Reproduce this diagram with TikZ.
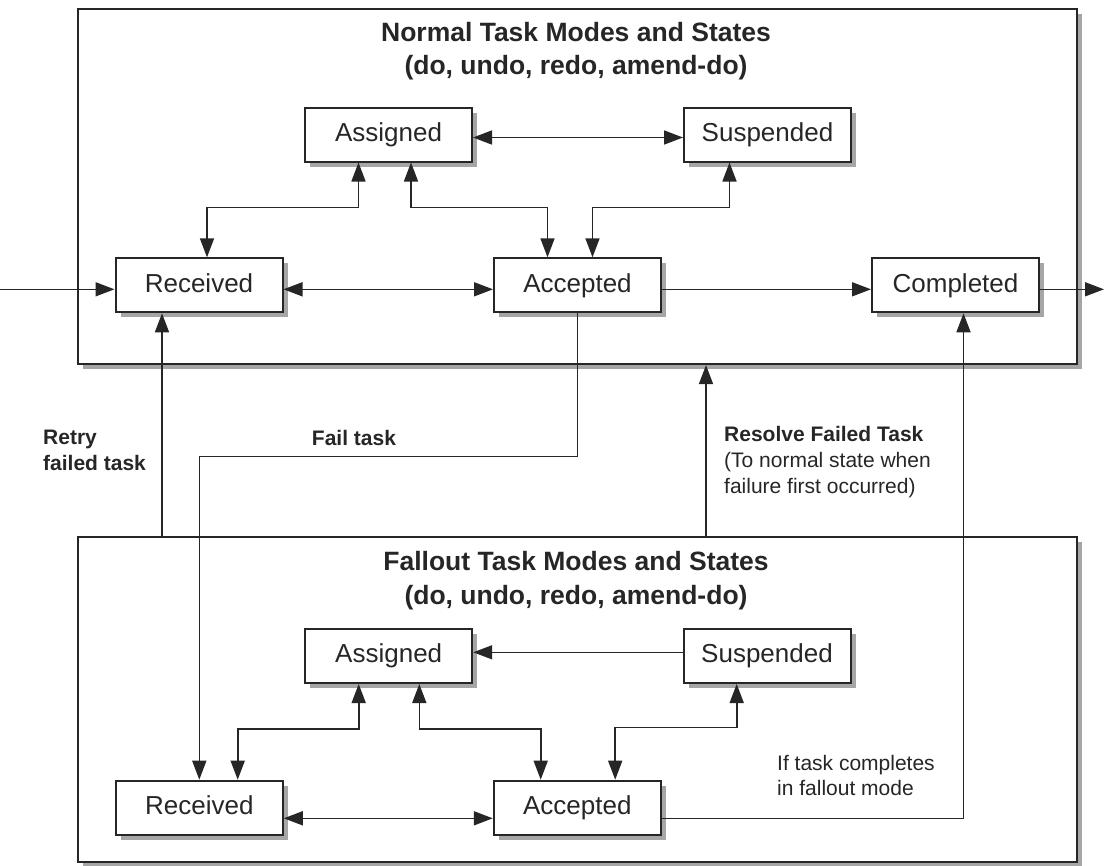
\documentclass[tikz,border=0pt]{standalone}
\usepackage{fontspec}
\setmainfont{Liberation Sans}
\usetikzlibrary{arrows.meta,shadows}
\begin{document}
\begin{tikzpicture}[x=1pt,y=-1pt,
  line/.style={draw=black!85, line width=1.6pt},
  arr/.style={line, -{Triangle[length=19pt,width=14pt]}},
  darr/.style={line, {Triangle[length=19pt,width=14pt]}-{Triangle[length=19pt,width=14pt]}},
  shad/.style={drop shadow={shadow xshift=5pt, shadow yshift=-5pt, fill=black!35, opacity=1}},
  state/.style={draw=black!85, line width=2pt, fill=white, minimum width=167pt, minimum height=54pt,
    inner sep=0pt, text height=19pt, text depth=5.5pt, font=\fontsize{26}{30}\selectfont, text=black!85, shad},
  frame/.style={draw=black!85, line width=2.2pt, fill=white, inner sep=0pt, minimum width=999pt, shad},
  title/.style={font=\fontsize{26.5}{33.5}\selectfont\bfseries, text=black!85, align=center},
  lbl/.style={font=\fontsize{21}{25.6}\selectfont, text=black!85, align=left, inner sep=0pt}
]
\useasboundingbox (0,0) rectangle (1106,865);

% containers
\node[frame, minimum height=355pt] (top) at (577.5,186.5) {};
\node[frame, minimum height=325pt] (bot) at (577.5,699.5) {};

% titles
\node[title] (ttl1) at (576,51) {Normal Task Modes and States\\(do, undo, redo, amend-do)};
\node[title] (ttl2) at (576,580.5) {Fallout Task Modes and States\\(do, undo, redo, amend-do)};

% top states
\node[state] (tasg) at (388.5,134.5) {Assigned};
\node[state] (tsus) at (767.5,134.5) {Suspended};
\node[state] (trcv) at (199,285.3) {Received};
\node[state] (tacc) at (577.5,285.3) {Accepted};
\node[state] (tcmp) at (955.5,285.3) {Completed};

% bottom states
\node[state] (basg) at (388.7,656) {Assigned};
\node[state] (bsus) at (767,656) {Suspended};
\node[state] (brcv) at (199.3,807.7) {Received};
\node[state] (bacc) at (577.3,807.7) {Accepted};

% free ends
\coordinate (in) at (0,289.3);
\coordinate (out) at (1104,289.3);
\coordinate (rx) at (162,450);
\coordinate (vx) at (706,450);

% top connectors
\draw[darr] ([yshift=-3pt]tasg.east) -- ([yshift=-3pt]tsus.west);
\draw[darr] ([xshift=-30pt]tasg.south) -- ++(0,45) -| ([xshift=8pt]trcv.north);
\draw[darr] ([xshift=22.5pt]tasg.south) -- ++(0,45) -| ([xshift=-30pt]tacc.north);
\draw[darr] ([xshift=-38pt]tsus.south) -- ++(0,45) -| ([xshift=15pt]tacc.north);
\draw[darr] ([yshift=-4pt]trcv.east) -- ([yshift=-4pt]tacc.west);
\draw[arr] ([yshift=-4pt]tacc.east) -- ([yshift=-4pt]tcmp.west);
\draw[arr] (in) -- ([yshift=-4pt]trcv.west);
\draw[arr] ([yshift=-4pt]tcmp.east) -- (out);

% between containers
\draw[arr] (rx |- bot.north) -- (rx |- trcv.south);
\draw[arr] (tacc.south) -- ++(0,143) -| (brcv.north);
\draw[arr] (vx |- bot.north) -- (vx |- top.south);
\draw[arr] ([yshift=-10.6pt]bacc.east) -| ([xshift=8pt]tcmp.south);

% bottom connectors
\draw[arr] ([yshift=3.7pt]bsus.west) -- ([yshift=3.7pt]basg.east);
\draw[darr] ([xshift=-30pt]basg.south) -- ++(0,45) -| ([xshift=38.4pt]brcv.north);
\draw[darr] ([xshift=30.6pt]basg.south) -- ++(0,45) -| ([xshift=-36.6pt]bacc.north);
\draw[darr] ([xshift=-30.3pt]bsus.south) -- ++(0,43.4) -| ([xshift=37.9pt]bacc.north);
\draw[darr] ([yshift=-10.6pt]brcv.east) -- ([yshift=-10.6pt]bacc.west);

% labels
\node[lbl, anchor=west, font=\fontsize{21}{25.6}\selectfont\bfseries] (lretry) at (43,450.5) {Retry\\failed task};
\node[lbl, anchor=center, font=\fontsize{21}{25.6}\selectfont\bfseries] (lfail) at (354,438.3) {Fail task};
\node[lbl, anchor=west] (lres) at (724,462) {\textbf{Resolve Failed Task}\\(To normal state when\\failure first occurred)};
\node[lbl, anchor=west] (lif) at (777,775.5) {If task completes\\in fallout mode};
\end{tikzpicture}
\end{document}
